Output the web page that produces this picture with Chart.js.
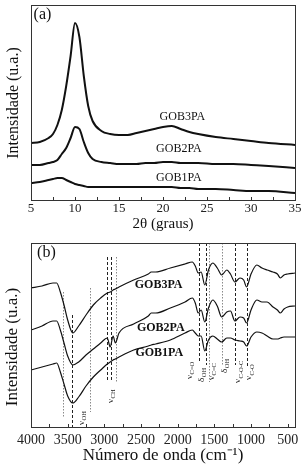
<!DOCTYPE html>
<html>
<head>
<meta charset="utf-8">
<script src="https://cdn.jsdelivr.net/npm/chart.js@4"></script>
<style>
  html, body { margin: 0; padding: 0; background: #fff; }
  .panel { position: relative; width: 305px; height: 236px; }
</style>
</head>
<body>
<div class="panel"><canvas id="xrd" width="305" height="236"></canvas></div>
<div class="panel"><canvas id="ftir" width="305" height="236"></canvas></div>
<script>
// (a) XRD, 2 theta in degrees, intensity in arbitrary units
var twoTheta = [5, 6, 7, 7.5, 8, 8.5, 9, 9.5, 10, 10.5, 11, 11.5, 12, 13, 14, 15, 16, 17, 18, 19, 20, 21, 22, 23, 24, 26, 28, 30, 32, 35];
var gob3paXrd = [57, 58, 62, 66, 75, 90, 114, 144, 177, 163, 124, 94, 79, 69, 66, 65, 65, 67, 69, 71, 73, 74, 71, 68, 66, 63, 61, 59, 57, 55];
var gob2paXrd = [35, 35, 37, 38, 40, 46, 52, 62, 73, 71, 58, 47, 41, 38, 37, 36, 36, 36, 37, 37, 38, 38, 37, 37, 37, 36, 36, 35, 34, 32];
var gob1paXrd = [17, 18, 20, 21, 22, 22, 20, 18, 16, 15, 14, 13, 13, 13, 13, 13, 13, 13, 13, 13, 13, 13, 12, 12, 11, 11, 10, 9, 9, 7];
var xrdTicks = [5, 10, 15, 20, 25, 30, 35];

// (b) FTIR, wavenumber in cm-1
var wavenumber = [4000, 3850, 3700, 3650, 3600, 3550, 3500, 3430, 3350, 3250, 3150, 3050, 2960, 2920, 2880, 2850, 2800, 2600, 2400, 2360,
  2300, 2100, 1900, 1800, 1760, 1720, 1680, 1630, 1580, 1520, 1460, 1400, 1330, 1280, 1220, 1150, 1100, 1060, 1000, 920,
  850, 780, 700, 640, 600, 550, 500, 400];
var gob3paFtir = [139, 141, 144, 144, 135, 122, 107, 94, 101, 112, 122, 129, 134, 135, 137, 138, 140, 147, 153, 155,
  155, 159, 163, 165, 161, 154, 155, 142, 157, 164, 159, 152, 157, 153, 145, 149, 147, 140, 153, 162,
  159, 157, 155, 153, 149, 152, 153, 154];
var gob2paFtir = [97, 101, 106, 106, 97, 84, 71, 62, 65, 72, 78, 84, 89, 80, 91, 84, 94, 103, 111, 114,
  114, 119, 125, 129, 124, 114, 117, 105, 119, 127, 121, 110, 115, 116, 106, 110, 109, 104, 117, 127,
  125, 125, 120, 117, 114, 118, 120, 121];
var gob1paFtir = [57, 60, 63, 64, 55, 43, 31, 24, 30, 41, 50, 57, 63, 65, 67, 68, 70, 77, 81, 82,
  83, 87, 94, 97, 94, 91, 91, 76, 87, 91, 88, 85, 89, 89, 87, 86, 85, 81, 90, 95,
  94, 91, 88, 88, 89, 90, 90, 90];
var ftirTicks = [4000, 3500, 3000, 2500, 2000, 1500, 1000, 500];

// marked bands: position, top and bottom of the guide line, style
var bandPos = [3570, 3437, 3195, 2960, 2910, 2845, 1713, 1618, 1568, 1391, 1214, 1059];
var bandTop = [135, 112, 139, 170, 170, 170, 184, 184, 184, 184, 184, 184];
var bandBottom = [10, 0, 15, 45, 45, 45, 65, 62, 45, 62, 62, 59];
var bandGray = [true, false, true, false, false, true, false, false, true, true, false, false];
// band labels: symbol, subscript, position, where the text starts
var bandSym = ['\u03bd', '\u03bd', '\u03bd', '\u03b4', '\u03bd', '\u03b4', '\u03bd', '\u03bd'];
var bandSub = ['OH', 'CH', 'C=O', 'OH', 'C=C', 'OH', 'C-O-C', 'C-O'];
var bandLabelX = [3298, 2902, 1825, 1661, 1525, 1348, 1164, 1014];
var bandLabelY = [2, 24, 48, 45, 47, 54, 44, 47];

var SERIF = '"Liberation Serif", "Times New Roman", serif';

function series(xs, ys) {
  var pts = [];
  for (var i = 0; i < xs.length; i++) pts.push({ x: xs[i], y: ys[i] });
  return pts;
}

function lineSet(xs, ys, width) {
  return {
    data: series(xs, ys),
    borderColor: '#111',
    borderWidth: width,
    pointRadius: 0,
    fill: false,
    cubicInterpolationMode: 'monotone'
  };
}

// box around the plot and small inward ticks on the bottom axis
var frameTicks = {
  id: 'frameTicks',
  afterDraw: function(chart, args, opts) {
    var ctx = chart.ctx, a = chart.chartArea, xs = chart.scales.x;
    ctx.save();
    ctx.strokeStyle = '#333';
    ctx.lineWidth = 1;
    ctx.strokeRect(Math.round(a.left) + 0.5, Math.round(a.top) + 0.5, Math.round(a.right - a.left), Math.round(a.bottom - a.top));
    ctx.beginPath();
    for (var v = opts.from; v <= opts.to + 1e-6; v += opts.step) {
      var px = Math.round(xs.getPixelForValue(v)) + 0.5;
      ctx.moveTo(px, a.bottom);
      ctx.lineTo(px, a.bottom - opts.len);
    }
    ctx.stroke();
    ctx.restore();
  }
};

// free text placed in data units (px: fixed x in pixels, rot: rotated upward)
var notes = {
  id: 'notes',
  afterDatasetsDraw: function(chart, args, opts) {
    var ctx = chart.ctx, xs = chart.scales.x, ys = chart.scales.y;
    ctx.save();
    ctx.fillStyle = '#111';
    ctx.textAlign = 'center';
    ctx.textBaseline = 'middle';
    (opts.items || []).forEach(function(it) {
      var x = it.px !== undefined ? it.px : xs.getPixelForValue(it.x);
      var y = ys.getPixelForValue(it.y);
      ctx.font = it.font;
      if (it.rot) {
        ctx.save();
        ctx.translate(x, y);
        ctx.rotate(-Math.PI / 2);
        ctx.fillText(it.text, 0, 0);
        ctx.restore();
      } else {
        ctx.fillText(it.text, x, y);
      }
    });
    ctx.restore();
  }
};

// dashed guide lines and rotated band names
var bands = {
  id: 'bands',
  beforeDatasetsDraw: function(chart) {
    var ctx = chart.ctx, xs = chart.scales.x, ys = chart.scales.y;
    ctx.save();
    for (var i = 0; i < bandPos.length; i++) {
      var px = Math.round(xs.getPixelForValue(bandPos[i])) + 0.5;
      ctx.beginPath();
      ctx.strokeStyle = bandGray[i] ? '#8a8a8a' : '#222';
      ctx.lineWidth = 1;
      ctx.setLineDash(bandGray[i] ? [1.5, 1.5] : [3, 2]);
      ctx.moveTo(px, ys.getPixelForValue(bandTop[i]));
      ctx.lineTo(px, ys.getPixelForValue(bandBottom[i]));
      ctx.stroke();
    }
    ctx.setLineDash([]);
    ctx.fillStyle = '#222';
    ctx.textBaseline = 'middle';
    ctx.textAlign = 'left';
    for (var j = 0; j < bandSym.length; j++) {
      ctx.save();
      ctx.translate(xs.getPixelForValue(bandLabelX[j]), ys.getPixelForValue(bandLabelY[j]));
      ctx.rotate(-Math.PI / 2);
      ctx.font = '9px ' + SERIF;
      ctx.fillText(bandSym[j], 0, -1);
      var w = ctx.measureText(bandSym[j]).width;
      ctx.font = '6.5px ' + SERIF;
      ctx.fillText(bandSub[j], w + 0.5, 2);
      ctx.restore();
    }
    ctx.restore();
  }
};

function makeChart(id, cfg) {
  return new Chart(document.getElementById(id), {
    type: 'line',
    data: { datasets: cfg.datasets },
    plugins: [frameTicks, notes].concat(cfg.extraPlugins || []),
    options: {
      responsive: false,
      animation: false,
      devicePixelRatio: 1,
      layout: { padding: cfg.padding },
      plugins: {
        legend: { display: false },
        tooltip: { enabled: false },
        frameTicks: cfg.ticks,
        notes: { items: cfg.notes }
      },
      scales: {
        x: {
          type: 'linear',
          min: cfg.xMin,
          max: cfg.xMax,
          reverse: cfg.reverse,
          grid: { display: false, drawTicks: false },
          border: { display: false },
          afterBuildTicks: function(scale) {
            scale.ticks = cfg.tickValues.map(function(v) { return { value: v }; });
          },
          afterFit: function(scale) { scale.height = cfg.xHeight; },
          ticks: {
            color: '#222',
            padding: cfg.tickPad,
            maxRotation: 0,
            autoSkip: false,
            font: { family: SERIF, size: cfg.tickSize },
            callback: function(v) { return String(v); }
          },
          title: {
            display: true,
            text: cfg.xTitle,
            color: '#111',
            padding: { top: 0, bottom: cfg.xTitlePad },
            font: { family: SERIF, size: cfg.titleSize }
          }
        },
        y: {
          min: 0,
          max: cfg.yMax,
          grid: { display: false },
          border: { display: false },
          ticks: { display: false },
          afterFit: function(scale) { scale.width = 31; }
        }
      }
    }
  });
}

makeChart('xrd', {
  datasets: [
    lineSet(twoTheta, gob3paXrd, 2),
    lineSet(twoTheta, gob2paXrd, 2),
    lineSet(twoTheta, gob1paXrd, 2)
  ],
  padding: { left: 0, right: 10, top: 5, bottom: 0 },
  ticks: { from: 5, to: 35, step: 2.5, len: 3 },
  notes: [
    { text: 'Intensidade (u.a.)', px: 14, y: 97, rot: true, font: '16px ' + SERIF },
    { text: '(a)', x: 6.3, y: 185, font: '16px ' + SERIF },
    { text: 'GOB3PA', x: 22.2, y: 83, font: '12px ' + SERIF },
    { text: 'GOB2PA', x: 21.8, y: 51, font: '12px ' + SERIF },
    { text: 'GOB1PA', x: 21.8, y: 22, font: '12px ' + SERIF }
  ],
  xMin: 5, xMax: 35, reverse: false, yMax: 195,
  tickValues: xrdTicks, xHeight: 36, tickPad: 1, tickSize: 13,
  xTitle: '2\u03b8 (graus)', xTitlePad: 3, titleSize: 15
});

makeChart('ftir', {
  datasets: [
    lineSet(wavenumber, gob3paFtir, 1.2),
    lineSet(wavenumber, gob2paFtir, 1.2),
    lineSet(wavenumber, gob1paFtir, 1.2)
  ],
  extraPlugins: [bands],
  padding: { left: 0, right: 10, top: 7, bottom: 0 },
  ticks: { from: 500, to: 4000, step: 250, len: 3 },
  notes: [
    { text: 'Intensidade (u.a.)', px: 13, y: 80, rot: true, font: '17px ' + SERIF },
    { text: '(b)', x: 3790, y: 174, font: '16px ' + SERIF },
    { text: 'GOB3PA', x: 2260, y: 142, font: 'bold 12px ' + SERIF },
    { text: 'GOB2PA', x: 2230, y: 99, font: 'bold 12px ' + SERIF },
    { text: 'GOB1PA', x: 2250, y: 74, font: 'bold 12px ' + SERIF }
  ],
  xMin: 400, xMax: 4000, reverse: true, yMax: 184,
  tickValues: ftirTicks, xHeight: 45, tickPad: 5, tickSize: 14,
  xTitle: 'N\u00famero de onda (cm\u207b\u00b9)', xTitlePad: 6, titleSize: 17
});
</script>
</body>
</html>
